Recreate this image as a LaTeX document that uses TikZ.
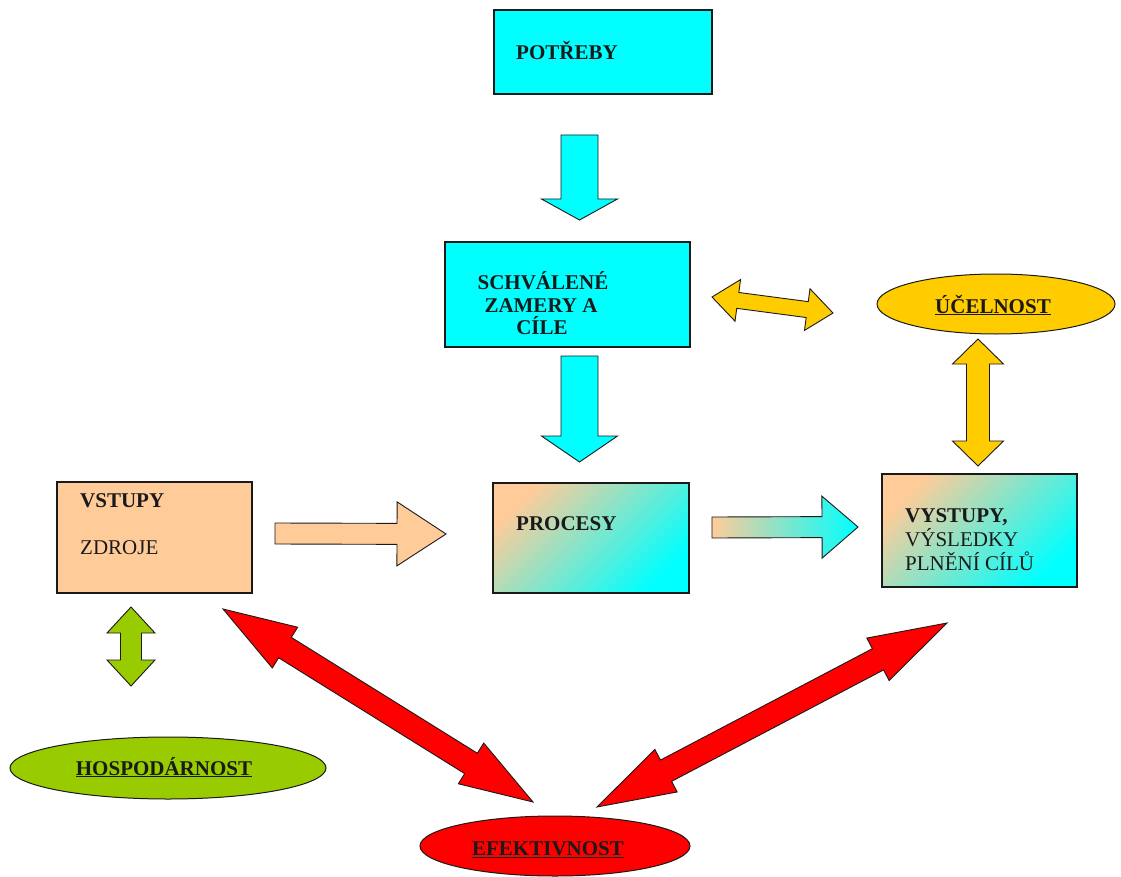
\documentclass[tikz,border=0pt]{standalone}
\usepackage{fontspec}
\setmainfont{Liberation Serif}
\usetikzlibrary{calc,shapes.geometric}

\definecolor{cyanf}{HTML}{00FFFF}
\definecolor{peach}{HTML}{FFCC99}
\definecolor{goldf}{HTML}{FFCC00}
\definecolor{greenf}{HTML}{99CC00}
\definecolor{redf}{HTML}{FF0000}
\definecolor{edge}{HTML}{1A1A1A}

% single block arrow: style, from, tip, half shaft, half head, head length
\newcommand{\sblk}[6]{%
  \coordinate (tmpH) at ($(#3)!#6!(#2)$);
  \draw[#1] ($(#2)!#4!90:(#3)$) -- ($(tmpH)!#4!90:(#3)$) -- ($(tmpH)!#5!90:(#3)$)
    -- (#3) -- ($(tmpH)!#5!-90:(#3)$) -- ($(tmpH)!#4!-90:(#3)$)
    -- ($(#2)!#4!-90:(#3)$) -- cycle;}
% double block arrow: style, tip1, tip2, half shaft, half head, head length
\newcommand{\dblk}[6]{%
  \coordinate (tmpP) at ($(#2)!#6!(#3)$);
  \coordinate (tmpQ) at ($(#3)!#6!(#2)$);
  \draw[#1] (#2) -- ($(tmpP)!#5!90:(#3)$) -- ($(tmpP)!#4!90:(#3)$)
    -- ($(tmpQ)!#4!90:(#3)$) -- ($(tmpQ)!#5!90:(#3)$) -- (#3)
    -- ($(tmpQ)!#5!-90:(#3)$) -- ($(tmpQ)!#4!-90:(#3)$)
    -- ($(tmpP)!#4!-90:(#3)$) -- ($(tmpP)!#5!-90:(#3)$) -- cycle;}

\tikzset{
  box/.style={draw=edge, line width=1.3pt, rectangle, inner sep=0pt},
  gradbox/.style={box, top color=peach, bottom color=cyanf, shading angle=45},
  oval/.style={draw=edge, line width=1pt, ellipse, inner sep=0pt},
  txt/.style={inner sep=0pt, text=edge, font=\fontsize{21}{23}\selectfont},
  blk/.style={draw=edge, line width=0.9pt, line join=miter},
}

\begin{document}
\begin{tikzpicture}[x=1pt,y=-1pt]
\fill[white] (0,0) rectangle (1121,877);
\useasboundingbox (0,0) rectangle (1121,877);

% boxes
\node[box, fill=cyanf, minimum width=218pt, minimum height=84pt] (pot) at (603,52) {};
\node[box, fill=cyanf, minimum width=245pt, minimum height=105pt] (sch) at (567.5,294.5) {};
\node[box, fill=peach, minimum width=195pt, minimum height=111pt] (vst) at (154.5,537.5) {};
\node[gradbox, minimum width=196pt, minimum height=110pt] (pro) at (591,538) {};
\node[gradbox, minimum width=195pt, minimum height=113pt] (vys) at (979.5,530.5) {};

% ellipses
\node[oval, fill=goldf, minimum width=238pt, minimum height=60pt] (uce) at (996,304) {};
\node[oval, fill=greenf, minimum width=316pt, minimum height=62pt] (hos) at (168,768) {};
\node[oval, fill=redf, minimum width=270pt, minimum height=60pt] (efe) at (555,846) {};

% texts
\node[txt, anchor=base west] (tpot) at (516,60) {\textbf{POTŘEBY}};
\node[txt, anchor=base] (tsch1) at (543,290) {\textbf{SCHVÁLENÉ}};
\node[txt, anchor=base] (tsch2) at (541,312) {\textbf{ZAMERY A}};
\node[txt, anchor=base] (tsch3) at (542,334) {\textbf{CÍLE}};
\node[txt, anchor=base west] (tvst) at (80,507) {\textbf{VSTUPY}};
\node[txt, anchor=base west] (tzdr) at (80,554) {ZDROJE};
\node[txt, anchor=base west] (tpro) at (516,530) {\textbf{PROCESY}};
\node[txt, anchor=base west] (tvys1) at (905,522) {\textbf{VYSTUPY,}};
\node[txt, anchor=base west] (tvys2) at (905,546) {VÝSLEDKY};
\node[txt, anchor=base west] (tvys3) at (905,570) {PLNĚNÍ CÍLŮ};
\node[txt, anchor=base] (tuce) at (993,313) {\underline{\textbf{ÚČELNOST}}};
\node[txt, anchor=base] (thos) at (164,775) {\underline{\textbf{HOSPODÁRNOST}}};
\node[txt, anchor=base] (tefe) at (548,855) {\underline{\textbf{EFEKTIVNOST}}};

% arrow end points
\coordinate (c1a) at (579.5,135);  \coordinate (c1b) at (579.5,220);
\coordinate (c2a) at (579.5,356);  \coordinate (c2b) at (579.5,462);
\coordinate (pa) at (275,533.5);   \coordinate (pb) at (446,534);
\coordinate (ga) at (712,527.5);   \coordinate (gb) at (858,527);
\coordinate (ya) at (712,297);     \coordinate (yb) at (833,313);
\coordinate (va) at (978,339);     \coordinate (vb) at (978,466);
\coordinate (ha) at (131,607);     \coordinate (hb) at (131,686);
\coordinate (ra) at (223,609);     \coordinate (rb) at (533,802);
\coordinate (sa) at (597,807);     \coordinate (sb) at (947,623);

% block arrows
\sblk{blk, fill=cyanf}{c1a}{c1b}{18.5pt}{38pt}{21pt}
\sblk{blk, fill=cyanf}{c2a}{c2b}{18.5pt}{38pt}{26pt}
\sblk{blk, fill=peach}{pa}{pb}{10.5pt}{32pt}{49pt}
\sblk{blk, left color=peach, right color=cyanf}{ga}{gb}{10.5pt}{31pt}{36pt}
\dblk{blk, fill=goldf}{ya}{yb}{8pt}{21pt}{26pt}
\dblk{blk, fill=goldf}{va}{vb}{11.5pt}{25.5pt}{25pt}
\dblk{blk, fill=greenf}{ha}{hb}{10.5pt}{24pt}{26pt}
\dblk{blk, fill=redf}{ra}{rb}{12pt}{24pt}{73pt}
\dblk{blk, fill=redf}{sa}{sb}{12pt}{24pt}{78pt}
\end{tikzpicture}
\end{document}
